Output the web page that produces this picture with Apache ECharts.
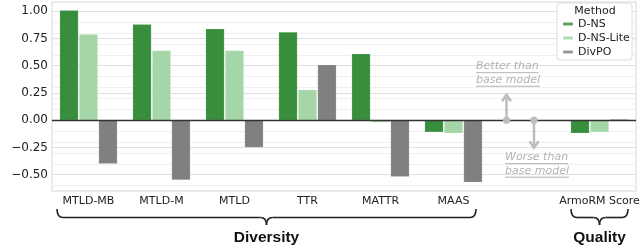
<!DOCTYPE html>
<html><head><meta charset="utf-8">
<script src="https://cdn.jsdelivr.net/npm/echarts@6.0.0/dist/echarts.min.js"></script>
<style>html,body{margin:0;padding:0;background:#fff}#c{width:640px;height:246px}</style>
</head><body><div id="c"></div>
<script>
// ---- data ----
const categories = ['MTLD-MB', 'MTLD-M', 'MTLD', 'TTR', 'MATTR', 'MAAS', '', 'ArmoRM Score'];
const seriesNames = ['D-NS', 'D-NS-Lite', 'DivPO'];
const dns     = [1.01, 0.88, 0.84, 0.81, 0.61, -0.11, null, -0.12];
const dnsLite = [0.79, 0.64, 0.64, 0.28, -0.02, -0.12, null, -0.11];
const divpo   = [-0.40, -0.55, -0.25, 0.51, -0.52, -0.57, null, 0.01];
const yMajorTicks = [-0.5, -0.25, 0, 0.25, 0.5, 0.75, 1.0];
const yMinorTicks = [-0.6, -0.5, -0.4, -0.3, -0.2, -0.1, 0.1, 0.2, 0.3, 0.4, 0.5, 0.6, 0.7, 0.8, 0.9, 1.0];
const groupLabels = ['Diversity', 'Quality'];
const yAxisTitle = 'Δ Diversity Decile';
const legendTitle = 'Method';
const noteUp = ['Better than', 'base model'];
const noteDown = ['Worse than', 'base model'];

const FONT = 'DejaVu Sans';
const colors = ['#388e3c', '#a5d6a7', '#808080'];
const chart = echarts.init(document.getElementById('c'), null, {renderer: 'canvas'});
function fmt(v) { return (v < 0 ? '\u2212' : '') + Math.abs(v).toFixed(2); }

const gridLines = [];
yMinorTicks.forEach(v => gridLines.push({yAxis: v, lineStyle: {color: '#efefef', width: 1, type: 'solid'}}));
yMajorTicks.filter(v => v !== 0).forEach(v => gridLines.push({yAxis: v, lineStyle: {color: '#e0e0e0', width: 1.2, type: 'solid'}}));

function barSeries(name, data, color) {
  return {name, type: 'bar', data, barGap: '4%', barCategoryGap: '21%', z: 3,
    itemStyle: {color, borderColor: 'rgba(255,255,255,0.3)', borderWidth: 0.5}};
}
const mlBase = {silent: true, symbol: ['none', 'none'], label: {show: false}, animation: false};

chart.setOption({
  animation: false,
  backgroundColor: '#fff',
  grid: {left: 52, right: 4, top: 2, bottom: 55, show: true, borderColor: '#e3e3e3', borderWidth: 1.5,
    containLabel: false, outerBoundsMode: 'none'},
  xAxis: {type: 'category', data: categories, axisLine: {show: false}, axisTick: {show: false}, splitLine: {show: false},
    axisLabel: {fontFamily: FONT, fontSize: 11, color: '#222', margin: 5, interval: 0}},
  yAxis: {type: 'value', min: -0.65, max: 1.085, axisLine: {show: false}, axisTick: {show: false}, splitLine: {show: false},
    axisLabel: {customValues: yMajorTicks, formatter: fmt, fontFamily: FONT, fontSize: 12, color: '#222', margin: 4},
    name: yAxisTitle, nameLocation: 'middle', nameGap: 35,
    nameTextStyle: {fontFamily: FONT, fontSize: 12, color: '#222'}},
  legend: {data: seriesNames, orient: 'vertical', left: 562, top: 17, itemWidth: 10, itemHeight: 3, itemGap: 0,
    icon: 'rect', padding: 0, selectedMode: false, z: 12,
    textStyle: {fontFamily: FONT, fontSize: 11, color: '#222', lineHeight: 14}},
  series: [
    {type: 'line', data: [], z: 1, silent: true, markLine: Object.assign({z: 1, data: gridLines}, mlBase)},
    barSeries(seriesNames[0], dns, colors[0]),
    barSeries(seriesNames[1], dnsLite, colors[1]),
    barSeries(seriesNames[2], divpo, colors[2]),
    {type: 'line', data: [], z: 5, silent: true,
      markLine: Object.assign({z: 6, data: [{yAxis: 0, lineStyle: {color: '#333', width: 1.3, type: 'solid'}}]}, mlBase)}
  ]
});

// ---- annotations, braces, legend box ----
const toPx = (i, v) => chart.convertToPixel({xAxisIndex: 0, yAxisIndex: 0}, [i, v]);
const [c6, y0] = toPx(6, 0);
const c0 = toPx(0, 0)[0], c5 = toPx(5, 0)[0], c7 = toPx(7, 0)[0];
const mctx = document.createElement('canvas').getContext('2d');
function tw(t, font) { mctx.font = font; return mctx.measureText(t).width; }
const noteFont = 'italic 11px "DejaVu Sans"';
const gcol = '#b3b3b3';
const g = [];
function note(lines, x, yc) {
  lines.forEach((t, k) => {
    const y = yc + k * 13.5;
    g.push({type: 'text', x, y, z: 20, style: {text: t, fill: gcol, font: noteFont, textAlign: 'left', textVerticalAlign: 'middle'}});
    g.push({type: 'line', z: 20, shape: {x1: x, y1: y + 6.5, x2: x + tw(t, noteFont), y2: y + 6.5}, style: {stroke: gcol, lineWidth: 1}});
  });
}
note(noteUp, c6 - 50.5, y0 - 54);
note(noteDown, c6 - 21.5, y0 + 37);
// arrows
const ax1 = c6 - 20, ax2 = c6 + 7.5;
const acol = '#bdbdbd';
g.push({type: 'line', z: 20, shape: {x1: ax1, y1: y0, x2: ax1, y2: y0 - 25}, style: {stroke: acol, lineWidth: 2.5}});
g.push({type: 'polyline', z: 20, shape: {points: [[ax1 - 4.5, y0 - 19], [ax1, y0 - 25.5], [ax1 + 4.5, y0 - 19]]}, style: {stroke: acol, lineWidth: 2.5, fill: null}});
g.push({type: 'circle', z: 21, shape: {cx: ax1, cy: y0, r: 3.6}, style: {fill: acol}});
g.push({type: 'line', z: 20, shape: {x1: ax2, y1: y0, x2: ax2, y2: y0 + 27}, style: {stroke: acol, lineWidth: 2.5}});
g.push({type: 'polyline', z: 20, shape: {points: [[ax2 - 4.5, y0 + 21], [ax2, y0 + 27.5], [ax2 + 4.5, y0 + 21]]}, style: {stroke: acol, lineWidth: 2.5, fill: null}});
g.push({type: 'circle', z: 21, shape: {cx: ax2, cy: y0, r: 3.6}, style: {fill: acol}});
// braces
function brace(xl, xr, label) {
  const yt = 209, yh = 217.5, yp = 225, xm = (xl + xr) / 2, r = 6;
  const st = {stroke: '#222', lineWidth: 1.6, fill: null};
  g.push({type: 'bezierCurve', z: 20, shape: {x1: xl, y1: yt, cpx1: xl, cpy1: yh, x2: xl + r, y2: yh}, style: st});
  g.push({type: 'line', z: 20, shape: {x1: xl + r, y1: yh, x2: xm - r, y2: yh}, style: st});
  g.push({type: 'bezierCurve', z: 20, shape: {x1: xm - r, y1: yh, cpx1: xm, cpy1: yh, x2: xm, y2: yp}, style: st});
  g.push({type: 'bezierCurve', z: 20, shape: {x1: xm, y1: yp, cpx1: xm, cpy1: yh, x2: xm + r, y2: yh}, style: st});
  g.push({type: 'line', z: 20, shape: {x1: xm + r, y1: yh, x2: xr - r, y2: yh}, style: st});
  g.push({type: 'bezierCurve', z: 20, shape: {x1: xr - r, y1: yh, cpx1: xr, cpy1: yh, x2: xr, y2: yt}, style: st});
  g.push({type: 'text', z: 20, x: xm, y: 238, style: {text: label, fill: '#111', font: 'bold 15.5px "Liberation Sans"', textAlign: 'center', textVerticalAlign: 'middle'}});
}
brace(c0 - 31.5, c5 + 22.5, groupLabels[0]);
brace(c7 - 28.5, c7 + 28.5, groupLabels[1]);
// legend box + title
g.push({type: 'rect', z: 9, shape: {x: 557, y: 3, width: 75, height: 57, r: 3}, style: {fill: 'rgba(255,255,255,0.92)', stroke: '#dcdcdc', lineWidth: 1}});
g.push({type: 'text', z: 10, x: 595, y: 11, style: {text: legendTitle, fill: '#222', font: '11px "DejaVu Sans"', textAlign: 'center', textVerticalAlign: 'middle'}});
chart.setOption({graphic: {elements: g}});
</script>
</body></html>
